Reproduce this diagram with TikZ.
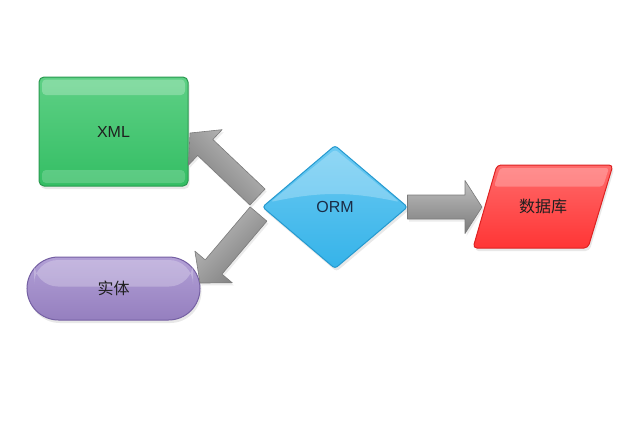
\documentclass[tikz,border=0pt]{standalone}
\usepackage{fontspec}
\setmainfont{Liberation Sans}
\newfontfamily\cjk{Noto Sans CJK SC}
\usetikzlibrary{calc,shapes.geometric,shadows}
\definecolor{xmlbase}{HTML}{34BE64}
\definecolor{xmllight}{HTML}{5ED085}
\definecolor{xmlline}{HTML}{2A9A50}
\definecolor{entbase}{HTML}{957FBF}
\definecolor{entlight}{HTML}{B2A0D6}
\definecolor{entline}{HTML}{7560A3}
\definecolor{ormbase}{HTML}{35B3E9}
\definecolor{ormlight}{HTML}{6CCAF2}
\definecolor{ormline}{HTML}{2599CF}
\definecolor{dbbase}{HTML}{FF3535}
\definecolor{dblight}{HTML}{FF6B6B}
\definecolor{dbline}{HTML}{DD2222}
\definecolor{ormtext}{HTML}{1B2B45}
\newcommand\blockarrow[6]{%
  \coordinate (ba) at ($(#2)!#5!(#1)$);
  \path[arrowbody, shading angle=#6]
    ($(#1)!#3!90:(#2)$) -- ($(ba)!#3!90:(#2)$) -- ($(ba)!#4!90:(#2)$) -- (#2)
    -- ($(ba)!#4!-90:(#2)$) -- ($(ba)!#3!-90:(#2)$) -- ($(#1)!#3!-90:(#2)$) -- cycle;
}
\begin{document}
\begin{tikzpicture}[x=1pt,y=-1pt,
  softshadow/.style={drop shadow={shadow xshift=1.5pt, shadow yshift=-3pt, opacity=.18}},
  shapebase/.style={inner sep=0pt, outer sep=0pt, line width=1pt, softshadow,
    font=\fontsize{16}{19}\selectfont, text=black!88},
  xmlbox/.style={shapebase, rectangle, rounded corners=5pt, minimum width=149pt, minimum height=109pt,
    draw=xmlline, top color=xmllight, middle color=xmlbase, bottom color=xmlbase},
  entbox/.style={shapebase, rectangle, rounded corners=31.5pt, minimum width=173pt, minimum height=63pt,
    draw=entline, top color=entlight, middle color=entbase, bottom color=entbase},
  ormbox/.style={shapebase, diamond, rounded corners=3pt, minimum width=145pt, minimum height=123pt,
    draw=ormline, top color=ormlight, middle color=ormbase, bottom color=ormbase, text=ormtext},
  dbshape/.style={line width=1pt, softshadow, rounded corners=4pt, draw=dbline,
    top color=dblight, middle color=dbbase, bottom color=dbbase},
  dbtext/.style={inner sep=0pt, font=\cjk\fontsize{16}{19}\selectfont, text=black!88},
  arrowbody/.style={draw=black!52, line width=0.6pt, line join=round,
    top color=black!25, middle color=black!47, bottom color=black!52,
    drop shadow={shadow xshift=1.5pt, shadow yshift=-2.5pt, opacity=.15}},
  gloss/.style={white, opacity=.25}
]
\useasboundingbox (0,0) rectangle (643,424);
\fill[white] (0,0) rectangle (643,424);

% node positions
\coordinate (xmlc) at (113.5,131.5);
\coordinate (entc) at (113.5,288.5);
\coordinate (ormc) at (335,207);
\coordinate (dbc) at (543,206.5);

% database parallelogram
\path[dbshape] ($(dbc)+(-46,-41.5)$) -- ($(dbc)+(70,-41.5)$) -- ($(dbc)+(45,41.5)$) -- ($(dbc)+(-70,41.5)$) -- cycle;
\fill[gloss, rounded corners=3pt] ($(dbc)+(-43,-38.5)$) -- ($(dbc)+(66,-38.5)$) -- ($(dbc)+(60,-20)$) -- ($(dbc)+(-49,-20)$) -- cycle;
\node[dbtext] (db) at (dbc) {数据库};

% nodes
\node[xmlbox] (xml) at (xmlc) {};
\node[entbox] (ent) at (entc) {};

% glossy highlights
\fill[gloss, rounded corners=4pt] ($(xml.north west)+(3,2.5)$) rectangle ($(xml.north east)+(-3,18)$);
\fill[white, opacity=.18, rounded corners=4pt] ($(xml.south west)+(3,-16)$) rectangle ($(xml.south east)+(-3,-3)$);
\fill[gloss, rounded corners=24pt] ($(ent.north west)+(7,3)$) rectangle ($(ent.east)+(-7,-2)$);
\node[font=\fontsize{16}{19}\selectfont, text=black!88] (xmlt) at (xml.center) {XML};
\node[font=\cjk\fontsize{16}{19}\selectfont, text=black!88] (entt) at (ent.center) {实体};

% arrows
\coordinate (xmltip) at ($(xml.east)+(2,1.5)$);
\coordinate (enttip) at ($(ent.east)+(0,-5.5)$);
\coordinate (dbtip) at ($(db)+(-61,0.5)$);
\coordinate (tailA) at ($(ormc)+(-77.5,-10)$);
\coordinate (tailB) at ($(ormc)+(-76.5,7)$);
\blockarrow{tailA}{xmltip}{11pt}{24.5pt}{21pt}{-45}
\blockarrow{tailB}{enttip}{11pt}{24.5pt}{21pt}{45}

% ORM diamond
\node[ormbox] (orm) at (ormc) {};
\fill[gloss, rounded corners=3pt] ($(orm.north)+(0,4)$) -- ($(orm.east)+(-8,-5)$) to[bend right=12] ($(orm.west)+(8,-5)$) -- cycle;
\node[font=\fontsize{16}{19}\selectfont, text=ormtext] (ormt) at (orm.center) {ORM};

\blockarrow{orm.east}{dbtip}{12pt}{26.5pt}{17pt}{0}
\end{tikzpicture}
\end{document}
